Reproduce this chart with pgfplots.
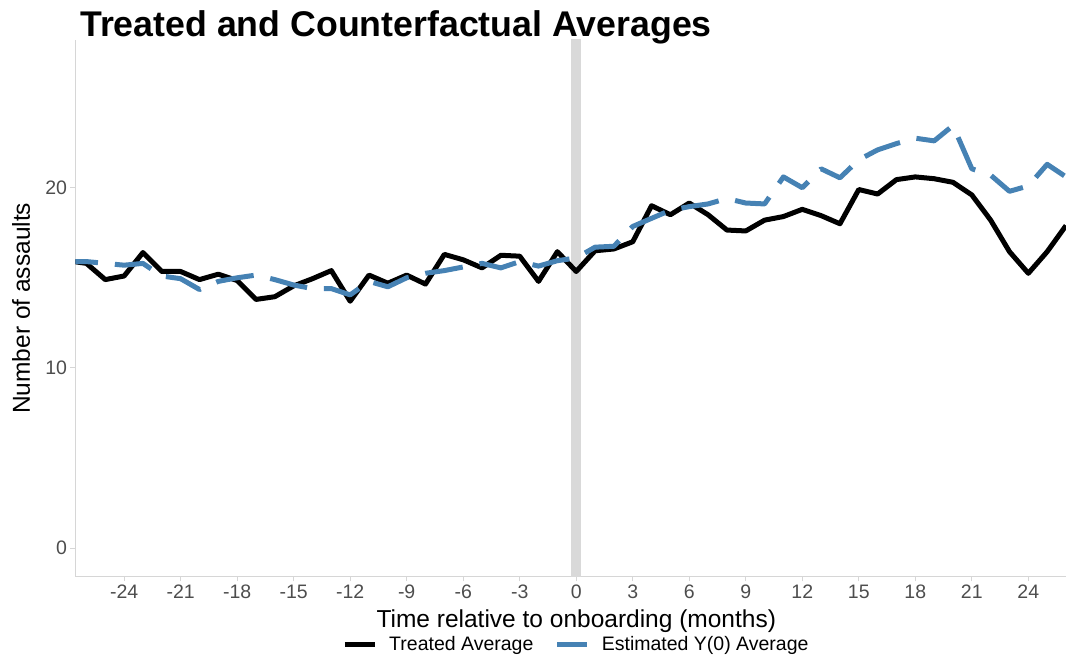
\documentclass[border=0pt]{standalone}
\usepackage{fontspec}
\setmainfont{Liberation Sans}
\usepackage{pgfplots}
\usepackage{pgfplotstable}
\pgfplotsset{compat=1.18}

\definecolor{steelblue}{RGB}{70,130,180}
\definecolor{bandgray}{RGB}{217,217,217}
\definecolor{axisgray}{RGB}{214,214,214}
\definecolor{ticktext}{RGB}{77,77,77}

% monthly averages: treated units and estimated untreated outcome Y(0)
\pgfplotstableread{
month treated estimated
-27 15.95 15.90
-26 15.80 15.90
-25 14.90 15.80
-24 15.10 15.70
-23 16.40 15.80
-22 15.35 15.10
-21 15.35 14.95
-20 14.90 14.35
-19 15.20 14.80
-18 14.85 15.00
-17 13.80 15.15
-16 13.95 14.90
-15 14.55 14.60
-14 14.95 14.40
-13 15.40 14.40
-12 13.70 14.05
-11 15.15 14.80
-10 14.70 14.50
-9 15.15 15.00
-8 14.65 15.25
-7 16.30 15.40
-6 16.00 15.60
-5 15.55 15.80
-4 16.25 15.55
-3 16.20 15.90
-2 14.80 15.65
-1 16.45 15.95
0 15.35 16.10
1 16.50 16.70
2 16.60 16.75
3 17.00 17.85
4 19.00 18.30
5 18.50 18.75
6 19.15 18.95
7 18.50 19.10
8 17.65 19.40
9 17.60 19.15
10 18.20 19.10
11 18.40 20.60
12 18.80 20.00
13 18.45 21.05
14 18.00 20.55
15 19.90 21.55
16 19.65 22.10
17 20.45 22.45
18 20.60 22.75
19 20.50 22.60
20 20.30 23.45
21 19.60 21.05
22 18.20 20.70
23 16.45 19.80
24 15.25 20.10
25 16.45 21.30
26 17.90 20.60
}\avgdata

\begin{document}
\begin{tikzpicture}
\useasboundingbox (-75.5pt,-78.5pt) rectangle (990.5pt,576.5pt);
\begin{axis}[
  at={(0,0)}, anchor=south west,
  scale only axis, width=990.5pt, height=536.5pt,
  xmin=-26.58, xmax=26.0, ymin=-1.58, ymax=28.2,
  axis x line*=bottom, axis y line*=left,
  axis line style={-, axisgray, line width=0.9pt},
  xtick={-24,-21,...,24}, ytick={0,10,20},
  tick align=outside, major tick length=5pt,
  tick style={axisgray, line width=0.9pt},
  ticklabel style={font=\fontsize{19.5}{22}\selectfont, text=ticktext},
  /pgf/number format/assume math mode=true,
  title={Treated and Counterfactual Averages},
  title style={at={(axis description cs:0.00454,1.00559)}, anchor=base west,
    yshift=-6pt, inner sep=0pt, font=\fontsize{35.7}{40}\selectfont\bfseries},
  xlabel={Time relative to onboarding (months)},
  xlabel style={at={(axis description cs:0.5056,-0.09599)}, anchor=base,
    inner sep=0pt, font=\fontsize{24.5}{28}\selectfont},
  ylabel={Number of assaults},
  ylabel style={at={(axis description cs:-0.04594,0.5)}, anchor=base,
    rotate=0, inner sep=0pt, font=\fontsize{24.5}{28}\selectfont},
  legend columns=-1,
  legend image code/.code={\draw[#1] (0pt,0pt) -- (30pt,0pt);},
  legend style={draw=none, fill=none, at={(axis description cs:0.2691,-0.1260)},
    anchor=west, inner sep=0pt, font=\fontsize{19.5}{22}\selectfont,
    nodes={inner sep=0pt},
    /tikz/every odd column/.style={column sep=12pt},
    /tikz/every even column/.style={column sep=21.4pt}},
]
% onboarding month marker
\addplot[bandgray, line width=10pt, forget plot] coordinates {(0,-5) (0,35)};
\addplot[black, line width=5pt, line join=round] table[x=month, y=treated] {\avgdata};
\addlegendentry{Treated Average}
\addplot[steelblue, line width=5pt, line join=round, line cap=butt,
  dash pattern=on 38pt off 17pt, dash phase=7.6pt] table[x=month, y=estimated] {\avgdata};
\addlegendentry{Estimated Y(0) Average}
\end{axis}
\end{tikzpicture}
\end{document}
